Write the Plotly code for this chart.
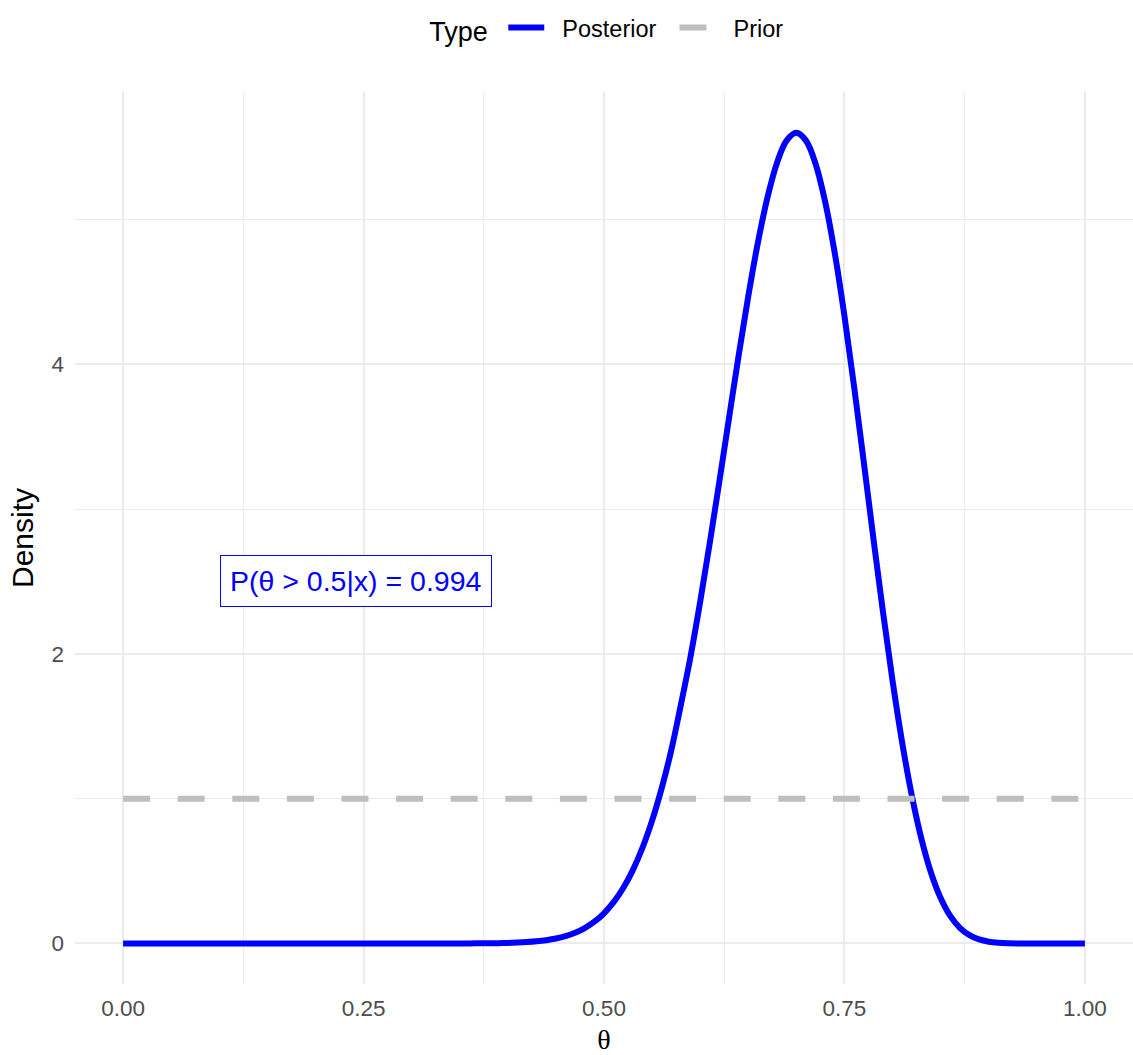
import plotly.graph_objects as go

# Posterior density of theta, read at steps of 0.01 across the bulk of the curve
theta_post = [0.00, 0.10, 0.20, 0.30, 0.34, 0.36, 0.37, 0.38, 0.39,
              0.40, 0.41, 0.42, 0.43, 0.44, 0.45, 0.46, 0.47, 0.48, 0.49,
              0.50, 0.51, 0.52, 0.53, 0.54, 0.55, 0.56, 0.57, 0.58, 0.59,
              0.60, 0.61, 0.62, 0.63, 0.64, 0.65, 0.66, 0.67, 0.68, 0.69,
              0.70, 0.71, 0.72, 0.73, 0.74, 0.75, 0.76, 0.77, 0.78, 0.79,
              0.80, 0.81, 0.82, 0.83, 0.84, 0.85, 0.86, 0.87, 0.88, 0.89,
              0.90, 0.91, 0.92, 0.93, 0.94, 0.96, 1.00]
density_post = [0.0, 0.0, 0.0, 0.0, 0.0001, 0.0004, 0.0007, 0.0013, 0.0022,
                0.0036, 0.0059, 0.0094, 0.0147, 0.0226, 0.0342, 0.0508, 0.0741, 0.1064, 0.1501,
                0.2084, 0.2849, 0.3827, 0.5066, 0.6607, 0.8483, 1.0728, 1.3363, 1.6509, 1.9820,
                2.3593, 2.7662, 3.1930, 3.6290, 4.0600, 4.4692, 4.8395, 5.1534, 5.3936, 5.5456,
                5.5980, 5.5443, 5.3830, 5.1196, 4.7644, 4.3334, 3.8474, 3.3290, 2.8025, 2.2911,
                1.8144, 1.3882, 1.0230, 0.7235, 0.4887, 0.3138, 0.1902, 0.1081, 0.0570, 0.0275,
                0.0120, 0.0046, 0.0015, 0.0004, 0.0001, 0.0, 0.0]

# Uniform prior
theta_prior = [0.0, 1.0]
density_prior = [1.0, 1.0]

annot_x, annot_y = 0.242, 2.5
annot_text = "P(θ > 0.5|x) = 0.994"

FONT = "Liberation Sans, Arial, sans-serif"
GRID = "#EBEBEB"
NBSP = "\u00a0"

fig = go.Figure()
fig.add_trace(go.Scatter(
    x=theta_post, y=density_post, mode="lines", name=NBSP * 2 + "Posterior" + NBSP * 2,
    line=dict(color="#0000FF", width=6, shape="spline", smoothing=1.0),
))
fig.add_trace(go.Scatter(
    x=theta_prior, y=density_prior, mode="lines", name=NBSP * 2 + "Prior",
    line=dict(color="#BEBEBE", width=6, dash="27px,27.6px"),
))

fig.add_annotation(
    x=annot_x, y=annot_y, text=annot_text, showarrow=False,
    font=dict(family=FONT, size=28.5, color="#0000FF"),
    bgcolor="white", bordercolor="#0000FF", borderwidth=1, borderpad=9,
)

fig.update_layout(
    width=1133, height=1055,
    margin=dict(l=75, r=0, t=92, b=71),
    paper_bgcolor="white", plot_bgcolor="white",
    font=dict(family=FONT, color="black"),
    showlegend=True,
    legend=dict(
        orientation="h", x=0.504, xanchor="center", y=1.071, yanchor="middle",
        title=dict(text="Type" + NBSP, font=dict(size=27, color="black"), side="left"),
        font=dict(size=23.5, color="black"), itemwidth=36, valign="middle",
        bgcolor="rgba(0,0,0,0)",
    ),
    xaxis=dict(
        range=[-0.05, 1.05], tickvals=[0, 0.25, 0.5, 0.75, 1.0],
        ticktext=["0.00", "0.25", "0.50", "0.75", "1.00"],
        tickfont=dict(size=22.5, color="#4D4D4D"),
        showgrid=True, gridcolor=GRID, gridwidth=1.6,
        minor=dict(tickvals=[0.125, 0.375, 0.625, 0.875], showgrid=True,
                   gridcolor=GRID, gridwidth=0.8),
        zeroline=False, showline=False, ticks="", ticklabelstandoff=8,
        title=dict(text="θ", font=dict(family="Liberation Serif, serif", size=28, color="black"),
                   standoff=10),
    ),
    yaxis=dict(
        range=[-0.28, 5.88], tickvals=[0, 2, 4],
        tickfont=dict(size=22.5, color="#4D4D4D"),
        showgrid=True, gridcolor=GRID, gridwidth=1.6,
        minor=dict(tickvals=[1, 3, 5], showgrid=True, gridcolor=GRID, gridwidth=0.8),
        zeroline=False, showline=False, ticks="", ticklabelstandoff=10,
        title=dict(text="Density", font=dict(size=30, color="black"), standoff=8),
    ),
)

fig.write_html("out.html")
